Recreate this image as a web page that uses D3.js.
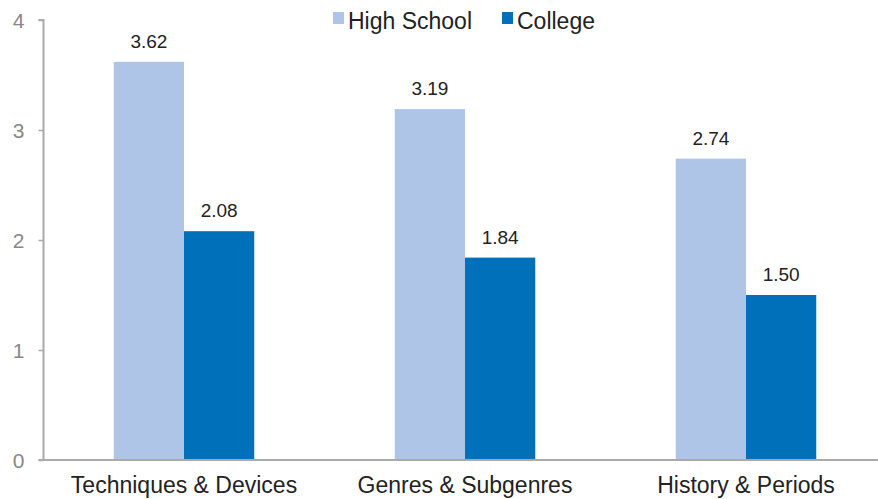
<!DOCTYPE html>
<html>
<head>
<meta charset="utf-8">
<script src="https://cdn.jsdelivr.net/npm/d3@7"></script>
<style>
  body { margin: 0; background: #fff; }
  svg { display: block; font-family: "Liberation Sans", Arial, sans-serif; }
</style>
</head>
<body>
<svg id="chart" width="878" height="499"></svg>
<script>
const categories = ["Techniques & Devices", "Genres & Subgenres", "History & Periods"];
const seriesNames = ["High School", "College"];
const highSchool = [3.62, 3.19, 2.74];
const college = [2.08, 1.84, 1.50];
const yTicks = [0, 1, 2, 3, 4];
const colors = ["#aec5e8", "#0070bb"];

const svg = d3.select("#chart");
const margin = { left: 43.5, right: -8.5, top: 20, bottom: 39 };
const width = 878, height = 499;

const x = d3.scaleBand()
    .domain(categories)
    .range([margin.left, width - margin.right])
    .paddingInner(0.5)
    .paddingOuter(0.25);

const xs = d3.scaleBand()
    .domain(seriesNames)
    .range([0, x.bandwidth()]);

const y = d3.scaleLinear()
    .domain([0, 4])
    .range([height - margin.bottom, margin.top]);

const rows = categories.map((c, i) => ({ cat: c, values: [highSchool[i], college[i]] }));

// bars
const group = svg.append("g").selectAll("g")
    .data(rows)
    .enter().append("g")
    .attr("transform", d => "translate(" + x(d.cat) + ",0)");

group.selectAll("rect")
    .data(d => d.values.map((v, j) => ({ name: seriesNames[j], value: v, j: j })))
    .enter().append("rect")
    .attr("x", d => xs(d.name))
    .attr("width", xs.bandwidth())
    .attr("y", d => y(d.value))
    .attr("height", d => y(0) - y(d.value))
    .attr("fill", d => colors[d.j]);

group.selectAll("text")
    .data(d => d.values.map((v, j) => ({ name: seriesNames[j], value: v })))
    .enter().append("text")
    .attr("x", d => xs(d.name) + xs.bandwidth() / 2)
    .attr("y", d => y(d.value) - 14)
    .attr("text-anchor", "middle")
    .attr("font-size", 19)
    .attr("fill", "#222")
    .text(d => d.value.toFixed(2));

// y axis
const yAxis = svg.append("g")
    .attr("transform", "translate(" + margin.left + ",0)")
    .call(d3.axisLeft(y).tickValues(yTicks).tickSize(5).tickPadding(14).tickFormat(d3.format("d")));
yAxis.select(".domain").attr("stroke", "#aaa").attr("stroke-width", 2)
    .attr("d", "M-5," + y(4) + "H0V" + y(0));
yAxis.selectAll(".tick line").attr("stroke", "#aaa").attr("stroke-width", 1.5);
yAxis.selectAll(".tick text")
    .attr("fill", "#888")
    .attr("font-size", 21)
    .attr("font-family", "Liberation Sans, Arial, sans-serif")
    .attr("dy", "0.36em");

// x axis
const xAxis = svg.append("g")
    .attr("transform", "translate(0," + y(0) + ")")
    .call(d3.axisBottom(x).tickSize(0).tickPadding(17));
xAxis.select(".domain").attr("stroke", "#aaa").attr("stroke-width", 2)
    .attr("d", "M" + (margin.left - 5) + ",0H" + width);
xAxis.selectAll(".tick text")
    .attr("fill", "#222")
    .attr("font-size", 23)
    .attr("font-family", "Liberation Sans, Arial, sans-serif");

// legend
const legendX = [333, 502];
const legend = svg.append("g").selectAll("g")
    .data(seriesNames)
    .enter().append("g")
    .attr("transform", (d, i) => "translate(" + legendX[i] + ",12)");
legend.append("rect")
    .attr("width", 11)
    .attr("height", 12)
    .attr("fill", (d, i) => colors[i]);
legend.append("text")
    .attr("x", 15)
    .attr("y", 17)
    .attr("font-size", 23)
    .attr("fill", "#222")
    .text(d => d);
</script>
</body>
</html>
